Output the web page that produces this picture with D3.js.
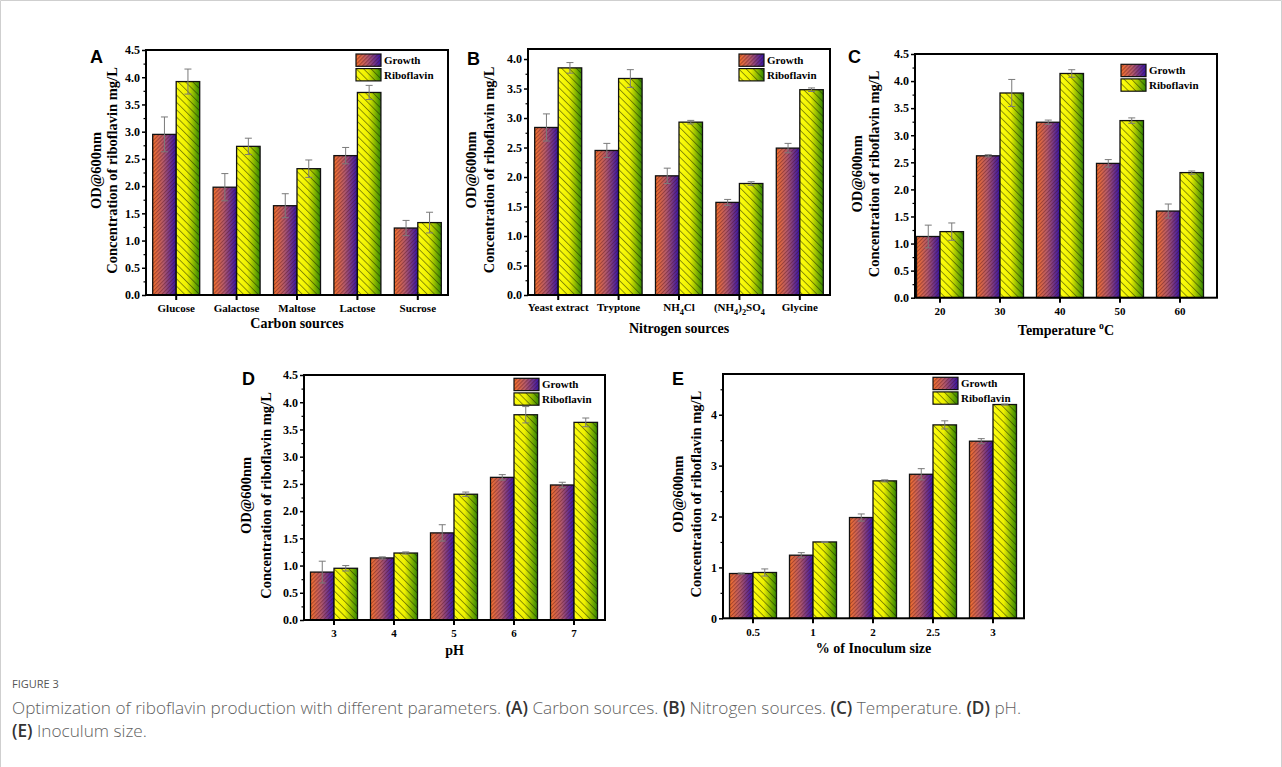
<!DOCTYPE html>
<html><head><meta charset="utf-8">
<script src="https://cdn.jsdelivr.net/npm/d3@7"></script>
<style>body{margin:0;background:#fff}</style>
</head><body>
<script>
// ---------- DATA ----------
const seriesNames = ["Growth", "Riboflavin"];

const catsA = ["Glucose", "Galactose", "Maltose", "Lactose", "Sucrose"];
const growthA = [2.95, 1.98, 1.64, 2.56, 1.23];
const growthErrA = [0.32, 0.25, 0.22, 0.15, 0.14];
const riboA = [3.92, 2.73, 2.32, 3.72, 1.33];
const riboErrA = [0.23, 0.15, 0.16, 0.13, 0.19];

const catsB = ["Yeast extract", "Tryptone", "NH4Cl", "(NH4)2SO4", "Glycine"];
const growthB = [2.84, 2.45, 2.02, 1.57, 2.49];
const growthErrB = [0.23, 0.12, 0.13, 0.05, 0.08];
const riboB = [3.85, 3.67, 2.93, 1.89, 3.48];
const riboErrB = [0.09, 0.15, 0.03, 0.03, 0.03];

const catsC = ["20", "30", "40", "50", "60"];
const growthC = [1.13, 2.62, 3.24, 2.48, 1.60];
const growthErrC = [0.21, 0.02, 0.04, 0.07, 0.13];
const riboC = [1.22, 3.78, 4.14, 3.27, 2.31];
const riboErrC = [0.16, 0.25, 0.07, 0.05, 0.03];

const catsD = ["3", "4", "5", "6", "7"];
const growthD = [0.88, 1.14, 1.60, 2.62, 2.48];
const growthErrD = [0.20, 0.02, 0.15, 0.05, 0.05];
const riboD = [0.95, 1.23, 2.31, 3.77, 3.63];
const riboErrD = [0.05, 0.02, 0.04, 0.15, 0.08];

const catsE = ["0.5", "1", "2", "2.5", "3"];
const growthE = [0.88, 1.24, 1.98, 2.83, 3.48];
const growthErrE = [0.01, 0.05, 0.07, 0.11, 0.05];
const riboE = [0.90, 1.50, 2.70, 3.80, 4.20];
const riboErrE = [0.07, 0.01, 0.02, 0.08, 0.01];

const yTicks45 = [0, 0.5, 1.0, 1.5, 2.0, 2.5, 3.0, 3.5, 4.0, 4.5];
const yTicks40 = [0, 0.5, 1.0, 1.5, 2.0, 2.5, 3.0, 3.5, 4.0];
const yTicksE = [0, 1, 2, 3, 4];

const xTitles = ["Carbon sources", "Nitrogen sources", "Temperature |o|C", "pH", "% of Inoculum size"];
const yTitle1 = "OD@600nm";
const yTitle2 = "Concentration of riboflavin mg/L";

// ---------- LAYOUT ----------
const panels = [
  {id:"A", cats:catsA, g:growthA, ge:growthErrA, r:riboA, re:riboErrA, ticks:yTicks45, yMax:4.5, fmt:".1f",
   x0:146, x1:448, y0:50, y1:295, band:[146,448], leg:[356,54], lab:[90,63], yt:[-45,-29], xl:17, xt:33, title:xTitles[0]},
  {id:"B", cats:catsB, g:growthB, ge:growthErrB, r:riboB, re:riboErrB, ticks:yTicks40, yMax:4.17, fmt:".1f", sub:true,
   x0:528, x1:830, y0:49, y1:295, band:[528,830], leg:[739,54], lab:[467,65], yt:[-52,-34], xl:16, xt:38, title:xTitles[1]},
  {id:"C", cats:catsC, g:growthC, ge:growthErrC, r:riboC, re:riboErrC, ticks:yTicks45, yMax:4.5, fmt:".1f",
   x0:915, x1:1217, y0:54, y1:297.7, band:[910,1210], leg:[1121,64.3], lab:[848,63], yt:[-53,-36], xl:17, xt:37, title:xTitles[2]},
  {id:"D", cats:catsD, g:growthD, ge:growthErrD, r:riboD, re:riboErrD, ticks:yTicks45, yMax:4.5, fmt:".1f",
   x0:304, x1:605, y0:375, y1:620, band:[304,604], leg:[514,378.3], lab:[242,385], yt:[-53,-33], xl:17, xt:35, title:xTitles[3]},
  {id:"E", cats:catsE, g:growthE, ge:growthErrE, r:riboE, re:riboErrE, ticks:yTicksE, yMax:4.8, fmt:"d",
   x0:723, x1:1024, y0:374, y1:618.3, band:[723,1023], leg:[933,377.3], lab:[672,385], yt:[-40,-22], xl:18, xt:35, title:xTitles[4]}
];

const W = 1282, H = 767;
const serif = "'Liberation Serif','Times New Roman',serif";
const svg = d3.select("body").append("svg").attr("width", W).attr("height", H)
  .style("display","block");

// outer figure frame
svg.append("path").attr("d", `M0.5,${H} V0.5 H${W-0.5} V${H}`).attr("fill","none")
  .attr("stroke","#cfcfcf").attr("stroke-width",1);

// defs
const defs = svg.append("defs");
const gG = defs.append("linearGradient").attr("id","gradG").attr("x1","0").attr("x2","1").attr("y1","0").attr("y2","0");
gG.append("stop").attr("offset","0").attr("stop-color","#f5702a");
gG.append("stop").attr("offset","0.45").attr("stop-color","#b45a6a");
gG.append("stop").attr("offset","1").attr("stop-color","#3214a8");
const gR = defs.append("linearGradient").attr("id","gradR").attr("x1","0").attr("x2","1").attr("y1","0").attr("y2","0");
gR.append("stop").attr("offset","0").attr("stop-color","#ffff10");
gR.append("stop").attr("offset","0.45").attr("stop-color","#eef000");
gR.append("stop").attr("offset","1").attr("stop-color","#2f8500");
const pG = defs.append("pattern").attr("id","hatchG").attr("patternUnits","userSpaceOnUse")
  .attr("width",2.8).attr("height",2.8).attr("patternTransform","rotate(45)");
pG.append("line").attr("x1",0.5).attr("y1",0).attr("x2",0.5).attr("y2",2.8)
  .attr("stroke","rgba(70,10,20,0.42)").attr("stroke-width",0.9);
const pR = defs.append("pattern").attr("id","hatchR").attr("patternUnits","userSpaceOnUse")
  .attr("width",5.2).attr("height",5.2).attr("patternTransform","rotate(-45)");
pR.append("line").attr("x1",0.5).attr("y1",0).attr("x2",0.5).attr("y2",5.2)
  .attr("stroke","rgba(20,30,0,0.6)").attr("stroke-width",0.8);

const fills = [["url(#gradG)","url(#hatchG)"],["url(#gradR)","url(#hatchR)"]];

function addRich(textSel, str, sub) {
  // superscript marked as |x| ; digits subscripted when sub is true
  if (str.includes("|")) {
    const parts = str.split("|");
    parts.forEach((p,i) => {
      if (!p) return;
      if (i % 2 === 1) textSel.append("tspan").attr("dy",-6).attr("font-size","0.7em").text(p);
      else textSel.append("tspan").attr("dy", i>0 ? 6 : 0).text(p);
    });
    return;
  }
  if (!sub) { textSel.text(str); return; }
  const parts = str.split(/(\d+)/);
  let down = false;
  parts.forEach(p => {
    if (!p) return;
    if (/^\d+$/.test(p)) {
      textSel.append("tspan").attr("dy", down ? 0 : 4).attr("font-size","0.75em").text(p);
      down = true;
    } else {
      textSel.append("tspan").attr("dy", down ? -4 : 0).text(p);
      down = false;
    }
  });
}

panels.forEach(P => {
  const g = svg.append("g");
  const y = d3.scaleLinear().domain([0, P.yMax]).range([P.y1, P.y0]);
  const x = d3.scaleBand().domain(P.cats).range(P.band).paddingInner(0).paddingOuter(0);
  const groupW = 47;
  const xs = d3.scaleBand().domain(seriesNames).range([0, groupW]).padding(0);
  const vals = [P.g, P.r], errs = [P.ge, P.re];

  // bars
  seriesNames.forEach((s, si) => {
    const bars = g.append("g").selectAll("g").data(P.cats).join("g");
    const bx = c => x(c) + (x.step() - groupW) / 2 + xs(s);
    const by = (c,i) => y(vals[si][i]);
    const bh = (c,i) => y(0) - y(vals[si][i]);
    bars.append("rect").attr("x", bx).attr("y", by).attr("width", xs.bandwidth()).attr("height", bh)
      .attr("fill", fills[si][0]);
    bars.append("rect").attr("x", bx).attr("y", by).attr("width", xs.bandwidth()).attr("height", bh)
      .attr("fill", fills[si][1]).attr("stroke","#111").attr("stroke-width",1.3);
  });
  // error bars
  seriesNames.forEach((s, si) => {
    const eb = g.append("g").attr("stroke","#7a7a7a").attr("stroke-width",1).attr("fill","none");
    P.cats.forEach((c, i) => {
      const cx = x(c) + (x.step() - groupW) / 2 + xs(s) + xs.bandwidth() / 2;
      const v = vals[si][i], e = errs[si][i];
      const yt = y(v + e), yb = y(Math.max(0, v - e));
      eb.append("line").attr("x1",cx).attr("x2",cx).attr("y1",yt).attr("y2",yb);
      eb.append("line").attr("x1",cx-3.5).attr("x2",cx+3.5).attr("y1",yt).attr("y2",yt);
      eb.append("line").attr("x1",cx-3.5).attr("x2",cx+3.5).attr("y1",yb).attr("y2",yb);
    });
  });

  // y axis (major + minor)
  const yAxis = d3.axisLeft(y).tickValues(P.ticks).tickSize(4).tickPadding(2).tickFormat(d3.format(P.fmt));
  const ya = g.append("g").attr("transform",`translate(${P.x0},0)`).call(yAxis);
  ya.select(".domain").remove();
  ya.selectAll("line").attr("stroke","#000").attr("stroke-width",1.5);
  ya.selectAll("text").attr("font-family",serif).attr("font-weight","bold").attr("font-size",12).attr("fill","#000");
  const step = P.ticks[1] - P.ticks[0];
  const minor = d3.range(step/2, P.yMax, step);
  const ym = g.append("g").attr("transform",`translate(${P.x0},0)`)
    .call(d3.axisLeft(y).tickValues(minor).tickSize(2.5).tickFormat(""));
  ym.select(".domain").remove();
  ym.selectAll("line").attr("stroke","#000").attr("stroke-width",1.2);

  // x axis ticks
  const xa = g.append("g").attr("transform",`translate(0,${P.y1})`)
    .call(d3.axisBottom(x).tickSize(5).tickFormat(""));
  xa.select(".domain").remove();
  xa.selectAll("line").attr("stroke","#000").attr("stroke-width",2);
  // x tick labels
  P.cats.forEach(c => {
    const t = g.append("text").attr("x", x(c) + x.bandwidth()/2).attr("y", P.y1 + P.xl)
      .attr("text-anchor","middle").attr("font-family",serif).attr("font-weight","bold").attr("font-size",11);
    addRich(t, c, P.sub);
  });

  // frame
  g.append("rect").attr("x",P.x0).attr("y",P.y0).attr("width",P.x1-P.x0).attr("height",P.y1-P.y0)
    .attr("fill","none").attr("stroke","#000").attr("stroke-width",2);

  // x title
  const xt = g.append("text").attr("x",(P.x0+P.x1)/2).attr("y",P.y1+P.xt).attr("text-anchor","middle")
    .attr("font-family",serif).attr("font-weight","bold").attr("font-size",14);
  addRich(xt, P.title, false);

  // y titles
  const cy = (P.y0 + P.y1) / 2 - 2;
  [yTitle1, yTitle2].forEach((tt, k) => {
    const bxp = P.x0 + P.yt[k];
    g.append("text").attr("transform",`translate(${bxp},${cy}) rotate(-90)`).attr("text-anchor","middle")
      .attr("font-family",serif).attr("font-weight","bold").attr("font-size",14.5).text(tt);
  });

  // panel label
  g.append("text").attr("x",P.lab[0]).attr("y",P.lab[1]).attr("font-family","'Liberation Sans',Arial,sans-serif")
    .attr("font-weight","bold").attr("font-size",18).text(P.id);

  // legend
  seriesNames.forEach((s, si) => {
    const ly = P.leg[1] + si * 14.6;
    g.append("rect").attr("x",P.leg[0]).attr("y",ly).attr("width",25).attr("height",12.3).attr("fill",fills[si][0]);
    g.append("rect").attr("x",P.leg[0]).attr("y",ly).attr("width",25).attr("height",12.3).attr("fill",fills[si][1])
      .attr("stroke","#111").attr("stroke-width",1.2);
    g.append("text").attr("x",P.leg[0]+28).attr("y",ly+10).attr("font-family",serif).attr("font-weight","bold")
      .attr("font-size",11).text(s);
  });
});

// caption
const cap = svg.append("g").attr("font-family","'Open Sans',sans-serif").attr("fill","#5f5f5f");
cap.append("text").attr("x",12).attr("y",688).attr("font-size",11).attr("fill","#555").text("FIGURE 3");
const line1 = cap.append("text").attr("x",12).attr("y",714).attr("font-size",17.2).attr("font-weight",300);
const line2 = cap.append("text").attr("x",12).attr("y",737).attr("font-size",17.2).attr("font-weight",300);
const capParts1 = [["Optimization of riboflavin production with different parameters. ",0],["(A)",1],[" Carbon sources. ",0],
  ["(B)",1],[" Nitrogen sources. ",0],["(C)",1],[" Temperature. ",0],["(D)",1],[" pH.",0]];
const capParts2 = [["(E)",1],[" Inoculum size.",0]];
capParts1.forEach(([t,b]) => line1.append("tspan").attr("font-weight", b ? 600 : null).attr("fill", b ? "#333" : null).text(t));
capParts2.forEach(([t,b]) => line2.append("tspan").attr("font-weight", b ? 600 : null).attr("fill", b ? "#333" : null).text(t));
</script>
</body></html>
